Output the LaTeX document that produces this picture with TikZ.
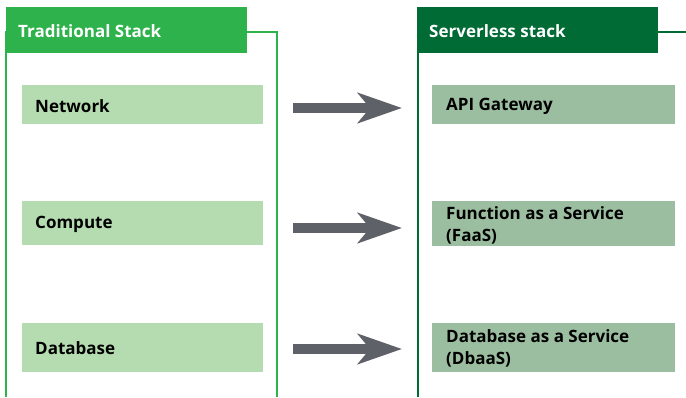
\documentclass[tikz,border=0pt]{standalone}
\usepackage{fontspec}
\setmainfont{Open Sans}
\usetikzlibrary{arrows.meta}
\definecolor{hdrL}{HTML}{2EB24B}
\definecolor{hdrR}{HTML}{016B36}
\definecolor{boxL}{HTML}{B4DCB0}
\definecolor{boxR}{HTML}{9CBEA0}
\definecolor{arr}{HTML}{5E6167}
\tikzset{
  hdr/.style={anchor=west, inner sep=0pt, text=white, font=\fontsize{17}{20}\selectfont\bfseries},
  itembox/.style={anchor=west, inner sep=0pt, font=\fontsize{17}{22}\selectfont\bfseries, align=left},
  bigarrow/.style={arr, line width=10pt, -{Stealth[length=44pt, width=30pt, inset=12pt]}}
}
\begin{document}
\begin{tikzpicture}[x=1pt,y=-1pt]
\useasboundingbox (0,0) rectangle (686,397);
% left panel outline
\draw[hdrL, line width=2pt] (6,397) -- (6,32) -- (277,32) -- (277,397);
\fill[hdrL] (6,7) rectangle (247,53);
\node[hdr] (hl) at (18,31) {Traditional Stack};
% right panel outline
\draw[hdrR, line width=2pt] (418,397) -- (418,32) -- (690,32);
\fill[hdrR] (417,7) rectangle (658,53);
\node[hdr] (hr) at (429,31) {Serverless stack};
% left boxes
\fill[boxL] (22,85) rectangle (263,124);
\node[itembox] (n1) at (35,106) {Network};
\fill[boxL] (22,201) rectangle (263,245);
\node[itembox] (n2) at (35,224) {Compute};
\fill[boxL] (22,323) rectangle (263,372);
\node[itembox] (n3) at (35,348) {Database};
% right boxes
\fill[boxR] (432,85) rectangle (675,124);
\node[itembox] (r1) at (446,106) {API Gateway};
\fill[boxR] (432,201) rectangle (675,246);
\node[itembox] (r2) at (446,225) {Function as a Service\\(FaaS)};
\fill[boxR] (432,323) rectangle (675,372);
\node[itembox] (r3) at (446,348.5) {Database as a Service\\(DbaaS)};
% arrows
\coordinate (a1s) at (293,108); \coordinate (a1e) at (402,108);
\coordinate (a2s) at (293,228); \coordinate (a2e) at (402,228);
\coordinate (a3s) at (293,349); \coordinate (a3e) at (402,349);
\draw[bigarrow] (a1s) -- (a1e);
\draw[bigarrow] (a2s) -- (a2e);
\draw[bigarrow] (a3s) -- (a3e);
\end{tikzpicture}
\end{document}
